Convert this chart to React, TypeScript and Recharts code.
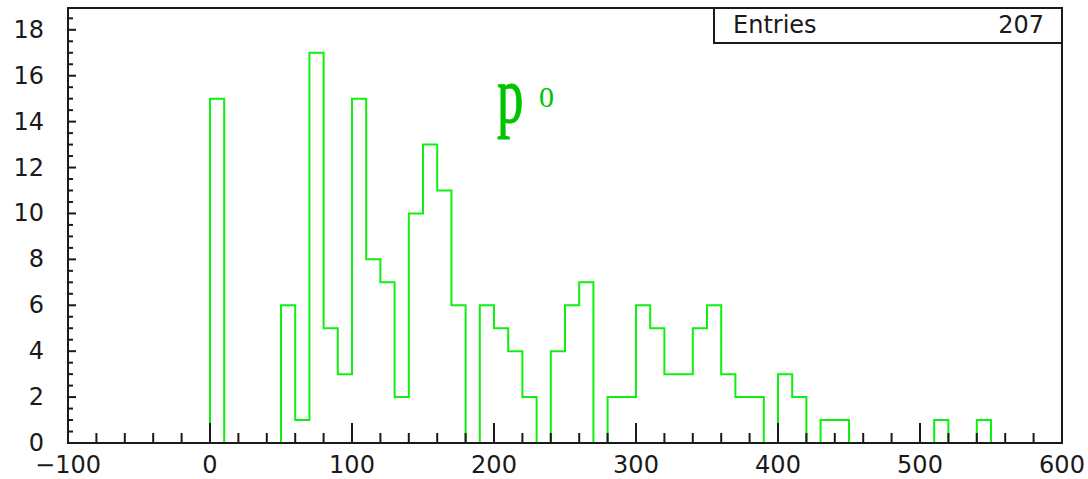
import { ComposedChart, Line, XAxis, YAxis, ReferenceArea } from 'recharts';

// histogram: 10-unit bins starting at 0
const binWidth = 10;
const counts = [
  15, 0, 0, 0, 0, 6, 1, 17, 5, 3,
  15, 8, 7, 2, 10, 13, 11, 6, 0, 6,
  5, 4, 2, 0, 4, 6, 7, 0, 2, 2,
  6, 5, 3, 3, 5, 6, 3, 2, 2, 0,
  3, 2, 0, 1, 1, 0, 0, 0, 0, 0,
  0, 1, 0, 0, 1,
];
const entries = 207;
const xTicks = [
  -100, -80, -60, -40, -20, 0, 20, 40, 60, 80, 100, 120, 140, 160, 180, 200,
  220, 240, 260, 280, 300, 320, 340, 360, 380, 400, 420, 440, 460, 480, 500,
  520, 540, 560, 580, 600,
];
const yTicks = [
  0, 0.5, 1, 1.5, 2, 2.5, 3, 3.5, 4, 4.5, 5, 5.5, 6, 6.5, 7, 7.5, 8, 8.5, 9,
  9.5, 10, 10.5, 11, 11.5, 12, 12.5, 13, 13.5, 14, 14.5, 15, 15.5, 16, 16.5,
  17, 17.5, 18, 18.5,
];
const yMax = 18.95;

const GREEN = '#10f010';
const LABEL_GREEN = '#00c400';
const INK = '#1a1a1a';
const SERIF = "'Times New Roman', 'Liberation Serif', Times, serif";

// outline points for a step line
const outline = [
  { x: 0, y: 0 },
  ...counts.map((c, i) => ({ x: i * binWidth, y: c })),
  { x: counts.length * binWidth, y: 0 },
];

const XTick = (props: any) => {
  const { x, y, payload } = props;
  const v = payload.value as number;
  const major = v % 100 === 0;
  return (
    <g>
      <line x1={x} x2={x} y1={y} y2={y - (major ? 20 : 10)} stroke={INK} strokeWidth={2} />
      {major && (
        <text x={x} y={y + 30} textAnchor="middle" fontSize={24} fill={INK} fontFamily="DejaVu Sans">
          {v < 0 ? '\u2212' + Math.abs(v) : v}
        </text>
      )}
    </g>
  );
};

const YTick = (props: any) => {
  const { x, y, payload } = props;
  const v = payload.value as number;
  const major = v % 2 === 0;
  return (
    <g>
      <line x1={x} x2={x + (major ? 8 : 5)} y1={y} y2={y} stroke={INK} strokeWidth={2} />
      {major && (
        <text x={x - 24} y={y + 8} textAnchor="end" fontSize={24} fill={INK} fontFamily="DejaVu Sans">
          {v}
        </text>
      )}
    </g>
  );
};

export default function App() {
  return (
    <div style={{ position: 'absolute', left: 0, top: 0, width: 1088, height: 479, background: '#fff' }}>
      <ComposedChart
        width={1088}
        height={479}
        data={outline}
        margin={{ top: 8, right: 26, left: 0, bottom: 0 }}
      >
        <XAxis
          type="number"
          dataKey="x"
          domain={[-100, 600]}
          ticks={xTicks}
          interval={0}
          tickSize={0}
          tickMargin={0}
          tickLine={false}
          tick={<XTick />}
          height={36}
          axisLine={{ stroke: INK, strokeWidth: 2 }}
          allowDataOverflow
        />
        <YAxis
          type="number"
          domain={[0, yMax]}
          ticks={yTicks}
          interval={0}
          tickSize={0}
          tickMargin={0}
          tickLine={false}
          tick={<YTick />}
          width={68}
          axisLine={{ stroke: INK, strokeWidth: 2 }}
          allowDataOverflow
        />
        <Line
          type="stepAfter"
          dataKey="y"
          stroke={GREEN}
          strokeWidth={2}
          dot={false}
          activeDot={false}
          isAnimationActive={false}
        />
        <ReferenceArea
          x1={-100}
          x2={600}
          y1={0}
          y2={yMax}
          fill="none"
          fillOpacity={0}
          stroke={INK}
          strokeWidth={2}
        />
      </ComposedChart>
      <div
        style={{
          position: 'absolute',
          left: 713,
          top: 7,
          width: 350,
          height: 37,
          border: `2px solid ${INK}`,
          boxSizing: 'border-box',
          fontFamily: 'DejaVu Sans',
          fontSize: 24,
          color: INK,
        }}
      >
        <span style={{ position: 'absolute', left: 18, top: 2 }}>Entries</span>
        <span style={{ position: 'absolute', right: 17, top: 2 }}>{entries}</span>
      </div>
      <div
        style={{
          position: 'absolute',
          left: 497,
          top: 55,
          fontFamily: SERIF,
          fontSize: 80,
          lineHeight: '80px',
          color: LABEL_GREEN,
          WebkitTextStroke: `1px ${LABEL_GREEN}`,
          transform: 'scaleX(0.66)',
          transformOrigin: 'left top',
          whiteSpace: 'nowrap',
        }}
      >
        p
      </div>
      <div
        style={{
          position: 'absolute',
          left: 539,
          top: 82,
          fontFamily: SERIF,
          fontSize: 30,
          lineHeight: '30px',
          color: LABEL_GREEN,
        }}
      >
        0
      </div>
    </div>
  );
}
